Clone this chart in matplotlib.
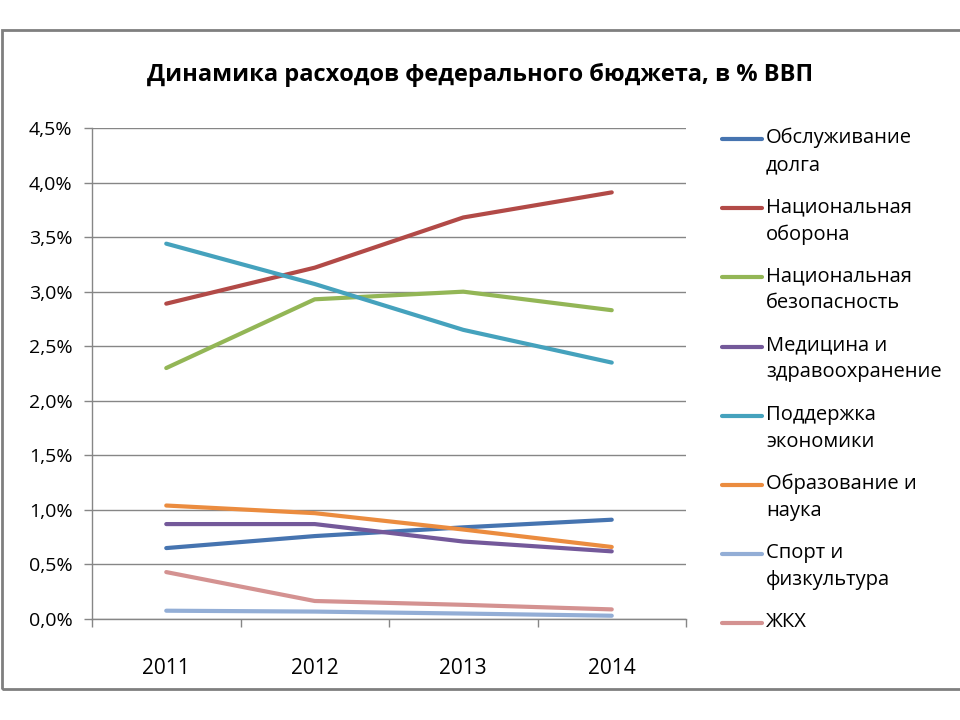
import matplotlib
matplotlib.use('Agg')
import matplotlib.pyplot as plt
from matplotlib.lines import Line2D
from matplotlib.patches import Rectangle
from matplotlib.ticker import FixedLocator, FuncFormatter

plt.rcParams['font.family'] = ['Open Sans', 'DejaVu Sans']

years = ['2011', '2012', '2013', '2014']
series_names = [
    'Обслуживание\nдолга',
    'Национальная\nоборона',
    'Национальная\nбезопасность',
    'Медицина и\nздравоохранение',
    'Поддержка\nэкономики',
    'Образование и\nнаука',
    'Спорт и\nфизкультура',
    'ЖКХ',
]
# shares of GDP, %
debt = [0.65, 0.76, 0.84, 0.91]
defence = [2.89, 3.22, 3.68, 3.91]
security = [2.30, 2.93, 3.00, 2.83]
health = [0.87, 0.87, 0.71, 0.62]
economy = [3.44, 3.07, 2.65, 2.35]
education = [1.04, 0.97, 0.82, 0.66]
sport = [0.076, 0.068, 0.05, 0.03]
housing = [0.43, 0.165, 0.13, 0.088]
series_values = [debt, defence, security, health, economy, education, sport, housing]

colors = ['#4674B0', '#B24A47', '#93B656', '#74599A', '#45A2BD', '#EB8C3F', '#93AED6', '#D49291']

fig = plt.figure(figsize=(9.6, 7.2), dpi=100)

# outer chart frame
fig.add_artist(Rectangle((2 / 960, 31 / 720), 1.0, 659 / 720, transform=fig.transFigure,
                         fill=False, edgecolor='#7f7f7f', linewidth=2))

ax = fig.add_axes([92 / 960, 101 / 720, 594 / 960, 491 / 720])
x = list(range(len(years)))
for vals, c in zip(series_values, colors):
    ax.plot(x, vals, color=c, linewidth=3, solid_capstyle='round', zorder=3)

ax.set_xlim(-0.5, len(years) - 0.5)
ax.set_ylim(0, 4.5)
ax.yaxis.set_major_locator(FixedLocator([i * 0.5 for i in range(10)]))
ax.yaxis.set_major_formatter(FuncFormatter(lambda v, p: f'{v:.1f}%'.replace('.', ',')))
ax.set_xticks(x)
ax.set_xticklabels(years)
ax.xaxis.set_minor_locator(FixedLocator([i - 0.5 for i in range(len(years) + 1)]))
ax.tick_params(axis='x', which='major', length=0, pad=28, labelsize=15)
ax.tick_params(axis='x', which='minor', length=6, color='#868686', width=1)
ax.tick_params(axis='y', length=6, color='#868686', width=1, labelsize=14, pad=8)
ax.grid(axis='y', color='#868686', linewidth=1)
ax.set_axisbelow(True)
for s in ['top', 'right']:
    ax.spines[s].set_visible(False)
for s in ['left', 'bottom']:
    ax.spines[s].set_color('#868686')
    ax.spines[s].set_linewidth(1)

fig.text(0.5, 1 - 75 / 720, 'Динамика расходов федерального бюджета, в % ВВП',
         ha='center', va='center', fontsize=17, fontweight='bold')

# legend drawn by hand so the key lines align with the first text line
for i, (name, c) in enumerate(zip(series_names, colors)):
    yc = 1 - (139 + 69.2 * i) / 720
    fig.add_artist(Line2D([722 / 960, 762 / 960], [yc, yc], transform=fig.transFigure,
                          color=c, linewidth=3, solid_capstyle='round'))
    fig.text(766 / 960, yc + 11 / 720, name, ha='left', va='top', fontsize=14.5,
             linespacing=1.45)

fig.savefig('out.png', dpi=100)
